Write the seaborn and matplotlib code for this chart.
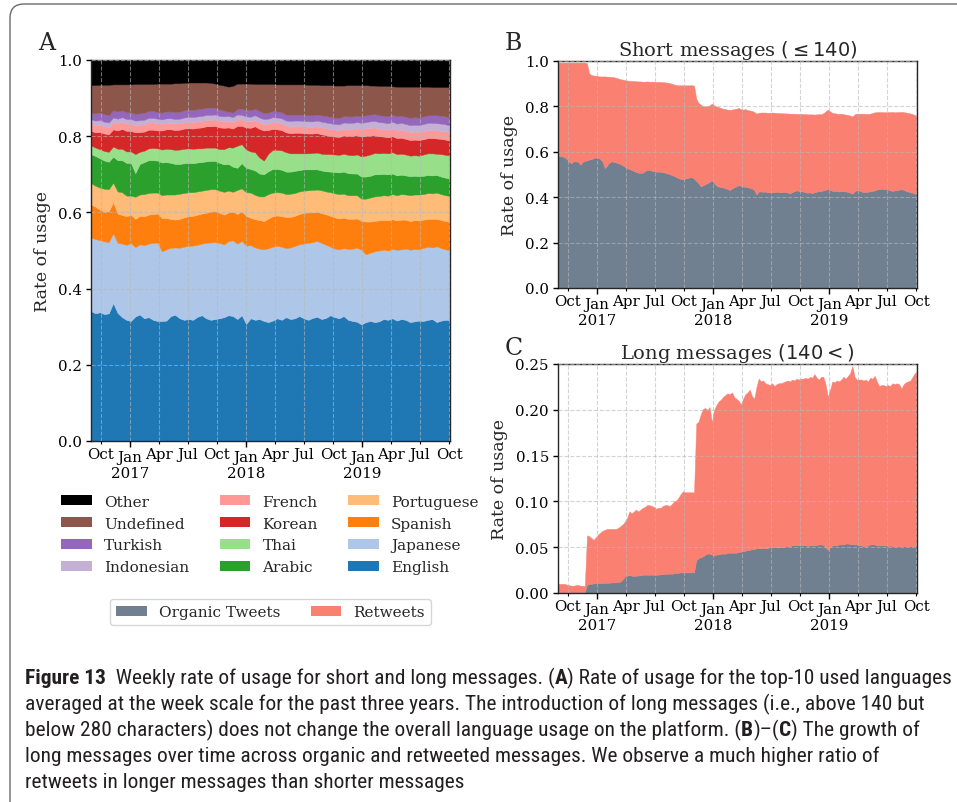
import matplotlib
matplotlib.use("Agg")
import numpy as np
import pandas as pd
import matplotlib.pyplot as plt
import matplotlib.dates as mdates
from matplotlib.ticker import FormatStrFormatter, MultipleLocator
from matplotlib.patches import Patch, FancyBboxPatch
from matplotlib.transforms import IdentityTransform
from matplotlib import font_manager as fm
import seaborn as sns

# ---------------------------------------------------------------- data
# Panel A: share of tweets per language, sampled roughly every two weeks
dates_a = pd.date_range("2016-09-01", "2019-10-03", periods=82)

english = [0.341, 0.335, 0.338, 0.333, 0.335, 0.362, 0.336, 0.325, 0.318, 0.315,
           0.327, 0.332, 0.322, 0.325, 0.318, 0.315, 0.315, 0.316, 0.328, 0.331,
           0.322, 0.318, 0.320, 0.318, 0.326, 0.330, 0.322, 0.318, 0.320, 0.322,
           0.325, 0.330, 0.328, 0.320, 0.330, 0.307, 0.322, 0.318, 0.320, 0.315,
           0.312, 0.316, 0.322, 0.318, 0.325, 0.320, 0.322, 0.328, 0.322, 0.318,
           0.323, 0.326, 0.320, 0.323, 0.330, 0.325, 0.322, 0.328, 0.318, 0.315,
           0.313, 0.306, 0.312, 0.315, 0.312, 0.314, 0.320, 0.318, 0.322, 0.316,
           0.320, 0.318, 0.312, 0.314, 0.316, 0.315, 0.318, 0.320, 0.312, 0.316,
           0.318, 0.317]
japanese = [0.193, 0.195, 0.189, 0.191, 0.187, 0.183, 0.184, 0.193, 0.197, 0.204,
            0.182, 0.184, 0.192, 0.193, 0.202, 0.206, 0.183, 0.187, 0.179, 0.177,
            0.185, 0.192, 0.192, 0.195, 0.189, 0.188, 0.198, 0.203, 0.202, 0.198,
            0.191, 0.194, 0.199, 0.198, 0.195, 0.206, 0.192, 0.190, 0.185, 0.188,
            0.194, 0.194, 0.190, 0.192, 0.181, 0.188, 0.190, 0.188, 0.196, 0.202,
            0.199, 0.199, 0.200, 0.192, 0.180, 0.180, 0.181, 0.178, 0.186, 0.190,
            0.194, 0.196, 0.178, 0.179, 0.186, 0.186, 0.182, 0.182, 0.182, 0.186,
            0.183, 0.187, 0.190, 0.190, 0.187, 0.192, 0.192, 0.188, 0.199, 0.190,
            0.185, 0.183]
spanish = [0.087, 0.085, 0.080, 0.078, 0.081, 0.082, 0.077, 0.075, 0.075, 0.075,
           0.074, 0.075, 0.076, 0.076, 0.076, 0.076, 0.087, 0.082, 0.076, 0.073,
           0.076, 0.077, 0.078, 0.078, 0.079, 0.079, 0.079, 0.082, 0.082, 0.079,
           0.078, 0.076, 0.075, 0.078, 0.078, 0.078, 0.072, 0.074, 0.075, 0.074,
           0.078, 0.080, 0.080, 0.080, 0.082, 0.080, 0.079, 0.080, 0.081, 0.080,
           0.078, 0.077, 0.078, 0.080, 0.081, 0.082, 0.081, 0.080, 0.079, 0.078,
           0.077, 0.076, 0.086, 0.082, 0.080, 0.079, 0.078, 0.079, 0.078, 0.077,
           0.078, 0.076, 0.075, 0.076, 0.076, 0.074, 0.073, 0.075, 0.072, 0.074,
           0.074, 0.075]
portuguese = [0.056, 0.055, 0.058, 0.060, 0.058, 0.051, 0.058, 0.060, 0.054, 0.050,
              0.058, 0.056, 0.058, 0.057, 0.056, 0.055, 0.060, 0.062, 0.064, 0.066,
              0.066, 0.064, 0.063, 0.062, 0.061, 0.060, 0.060, 0.058, 0.057, 0.058,
              0.060, 0.057, 0.052, 0.063, 0.060, 0.062, 0.066, 0.064, 0.062, 0.065,
              0.064, 0.062, 0.061, 0.062, 0.060, 0.061, 0.060, 0.059, 0.058, 0.058,
              0.059, 0.058, 0.060, 0.060, 0.062, 0.063, 0.064, 0.063, 0.062, 0.062,
              0.061, 0.058, 0.060, 0.063, 0.064, 0.064, 0.065, 0.065, 0.066, 0.066,
              0.067, 0.066, 0.068, 0.067, 0.068, 0.067, 0.068, 0.067, 0.069, 0.068,
              0.068, 0.068]
arabic = [0.076, 0.078, 0.077, 0.074, 0.072, 0.068, 0.082, 0.084, 0.086, 0.086,
          0.062, 0.080, 0.084, 0.086, 0.085, 0.084, 0.086, 0.085, 0.083, 0.080,
          0.078, 0.078, 0.077, 0.076, 0.076, 0.075, 0.075, 0.074, 0.074, 0.073,
          0.072, 0.070, 0.066, 0.058, 0.066, 0.064, 0.062, 0.064, 0.060, 0.058,
          0.060, 0.062, 0.061, 0.060, 0.059, 0.058, 0.058, 0.056, 0.056, 0.055,
          0.054, 0.053, 0.052, 0.053, 0.054, 0.056, 0.057, 0.058, 0.058, 0.057,
          0.057, 0.058, 0.058, 0.057, 0.058, 0.057, 0.056, 0.056, 0.054, 0.052,
          0.051, 0.050, 0.050, 0.049, 0.048, 0.048, 0.047, 0.047, 0.046, 0.046,
          0.046, 0.046]
thai = [0.023, 0.022, 0.024, 0.025, 0.026, 0.027, 0.030, 0.030, 0.030, 0.030,
        0.050, 0.032, 0.030, 0.031, 0.032, 0.032, 0.034, 0.035, 0.036, 0.037,
        0.038, 0.038, 0.038, 0.038, 0.037, 0.036, 0.036, 0.035, 0.035, 0.036,
        0.040, 0.044, 0.050, 0.058, 0.050, 0.048, 0.046, 0.048, 0.042, 0.036,
        0.046, 0.050, 0.050, 0.051, 0.051, 0.048, 0.046, 0.044, 0.042, 0.042,
        0.043, 0.044, 0.044, 0.045, 0.046, 0.046, 0.046, 0.047, 0.048, 0.048,
        0.050, 0.053, 0.055, 0.056, 0.056, 0.055, 0.055, 0.055, 0.056, 0.056,
        0.055, 0.055, 0.054, 0.054, 0.054, 0.056, 0.057, 0.058, 0.056, 0.059,
        0.060, 0.060]
korean = [0.038, 0.040, 0.045, 0.046, 0.046, 0.045, 0.048, 0.052, 0.054, 0.054,
          0.057, 0.052, 0.050, 0.049, 0.048, 0.047, 0.050, 0.051, 0.052, 0.052,
          0.052, 0.053, 0.053, 0.053, 0.054, 0.055, 0.056, 0.056, 0.057, 0.057,
          0.056, 0.052, 0.050, 0.052, 0.048, 0.058, 0.062, 0.068, 0.075, 0.079,
          0.062, 0.055, 0.054, 0.053, 0.052, 0.053, 0.054, 0.054, 0.053, 0.052,
          0.051, 0.051, 0.051, 0.050, 0.048, 0.047, 0.047, 0.048, 0.050, 0.051,
          0.051, 0.052, 0.052, 0.050, 0.047, 0.045, 0.043, 0.042, 0.042, 0.042,
          0.042, 0.041, 0.041, 0.041, 0.041, 0.040, 0.040, 0.040, 0.040, 0.040,
          0.040, 0.039]
french = [0.019] * 16 + [0.017] * 25 + [0.018] * 20 + [0.020] * 9 + [0.021] * 12
indonesian = ([0.011] + [0.012] * 21 + [0.013] * 12 + [0.012] * 4 + [0.013] * 7
              + [0.014] * 6 + [0.015] * 6 + [0.016] * 6 + [0.017] * 5
              + [0.018] * 7 + [0.019] * 7)
turkish = [0.017, 0.019, 0.020, 0.020, 0.019, 0.019, 0.019, 0.018, 0.018, 0.018,
           0.018, 0.018, 0.018, 0.018, 0.018, 0.018, 0.018, 0.018, 0.018, 0.018,
           0.018, 0.019, 0.019, 0.019, 0.019, 0.019, 0.019, 0.019, 0.018, 0.017,
           0.015, 0.011, 0.012, 0.014, 0.016, 0.017, 0.017, 0.017, 0.017, 0.016,
           0.016, 0.016, 0.016, 0.016, 0.016, 0.016, 0.016, 0.016, 0.016, 0.016,
           0.016, 0.016, 0.017, 0.017, 0.017, 0.017, 0.017, 0.017, 0.017, 0.017,
           0.017, 0.017, 0.018, 0.018, 0.018, 0.018, 0.018, 0.018, 0.019, 0.019,
           0.019, 0.019, 0.019, 0.020, 0.020, 0.020, 0.020, 0.020, 0.021, 0.021,
           0.021, 0.021]
undefined = [0.073, 0.074, 0.073, 0.077, 0.080, 0.068, 0.071, 0.068, 0.073, 0.073,
             0.078, 0.077, 0.076, 0.071, 0.071, 0.074, 0.076, 0.073, 0.073, 0.076,
             0.075, 0.072, 0.071, 0.072, 0.070, 0.069, 0.066, 0.065, 0.063, 0.065,
             0.066, 0.066, 0.070, 0.067, 0.066, 0.069, 0.070, 0.065, 0.071, 0.076,
             0.075, 0.071, 0.071, 0.073, 0.079, 0.080, 0.079, 0.079, 0.080, 0.080,
             0.080, 0.078, 0.079, 0.081, 0.083, 0.084, 0.085, 0.080, 0.082, 0.082,
             0.080, 0.082, 0.079, 0.076, 0.075, 0.077, 0.078, 0.080, 0.074, 0.078,
             0.076, 0.079, 0.082, 0.080, 0.081, 0.078, 0.075, 0.074, 0.074, 0.075,
             0.077, 0.080]

languages = ["English", "Japanese", "Spanish", "Portuguese", "Arabic", "Thai",
             "Korean", "French", "Indonesian", "Turkish", "Undefined", "Other"]
named_shares = [english, japanese, spanish, portuguese, arabic, thai, korean,
                french, indonesian, turkish, undefined]
# everything outside the listed languages is grouped as "Other"
other = 1.0 - np.sum(np.array(named_shares), axis=0)

# Panels B and C: weekly rate of usage, organic tweets vs retweets
dates_w = pd.date_range("2016-09-01", periods=162, freq="7D")

short_organic = [
    0.583, 0.582, 0.580, 0.575, 0.568, 0.555, 0.550, 0.560, 0.558, 0.556, 0.543, 0.556, 0.560, 0.562, 0.566, 0.568, 0.572, 0.575,
    0.573, 0.568, 0.556, 0.528, 0.540, 0.552, 0.558, 0.556, 0.553, 0.550, 0.546, 0.540, 0.534, 0.528, 0.524, 0.520, 0.516, 0.511,
    0.508, 0.507, 0.508, 0.515, 0.521, 0.520, 0.517, 0.515, 0.512, 0.513, 0.512, 0.510, 0.508, 0.505, 0.502, 0.498, 0.494, 0.489,
    0.484, 0.481, 0.478, 0.482, 0.484, 0.487, 0.488, 0.482, 0.472, 0.462, 0.448, 0.452, 0.458, 0.462, 0.468, 0.476, 0.462, 0.452,
    0.447, 0.445, 0.443, 0.440, 0.436, 0.432, 0.438, 0.444, 0.448, 0.453, 0.450, 0.447, 0.446, 0.444, 0.441, 0.438, 0.432, 0.412,
    0.425, 0.425, 0.424, 0.425, 0.421, 0.422, 0.423, 0.422, 0.424, 0.423, 0.421, 0.424, 0.423, 0.420, 0.418, 0.422, 0.427, 0.430,
    0.428, 0.426, 0.425, 0.421, 0.420, 0.421, 0.418, 0.422, 0.424, 0.428, 0.427, 0.430, 0.433, 0.436, 0.433, 0.428, 0.427, 0.428,
    0.425, 0.426, 0.426, 0.425, 0.424, 0.420, 0.416, 0.425, 0.432, 0.430, 0.425, 0.423, 0.423, 0.424, 0.426, 0.428, 0.430, 0.434,
    0.436, 0.437, 0.437, 0.436, 0.434, 0.430, 0.428, 0.430, 0.432, 0.433, 0.436, 0.432, 0.428, 0.425, 0.422, 0.420, 0.416, 0.413]
short_retweets = [
    0.410, 0.411, 0.413, 0.418, 0.425, 0.438, 0.443, 0.433, 0.435, 0.437, 0.450, 0.437, 0.433, 0.428, 0.379, 0.370, 0.364, 0.360,
    0.360, 0.364, 0.376, 0.404, 0.391, 0.379, 0.372, 0.373, 0.373, 0.373, 0.374, 0.378, 0.382, 0.386, 0.389, 0.392, 0.396, 0.400,
    0.402, 0.403, 0.401, 0.394, 0.389, 0.389, 0.392, 0.394, 0.396, 0.395, 0.396, 0.397, 0.398, 0.400, 0.401, 0.402, 0.403, 0.405,
    0.409, 0.412, 0.415, 0.411, 0.409, 0.406, 0.405, 0.410, 0.363, 0.353, 0.360, 0.350, 0.342, 0.338, 0.337, 0.336, 0.343, 0.348,
    0.350, 0.348, 0.347, 0.348, 0.350, 0.353, 0.348, 0.345, 0.342, 0.340, 0.338, 0.339, 0.342, 0.340, 0.341, 0.342, 0.344, 0.356,
    0.347, 0.348, 0.349, 0.348, 0.351, 0.350, 0.350, 0.350, 0.347, 0.348, 0.349, 0.346, 0.346, 0.349, 0.350, 0.346, 0.341, 0.337,
    0.339, 0.341, 0.341, 0.345, 0.345, 0.344, 0.347, 0.342, 0.341, 0.338, 0.339, 0.340, 0.345, 0.350, 0.345, 0.344, 0.343, 0.340,
    0.342, 0.342, 0.340, 0.339, 0.338, 0.340, 0.340, 0.340, 0.336, 0.338, 0.343, 0.345, 0.344, 0.343, 0.342, 0.343, 0.344, 0.341,
    0.339, 0.338, 0.338, 0.338, 0.341, 0.345, 0.348, 0.344, 0.343, 0.342, 0.340, 0.343, 0.345, 0.346, 0.347, 0.346, 0.346, 0.345]

long_organic = [
    0.001, 0.001, 0.001, 0.001, 0.001, 0.001, 0.001, 0.001, 0.001, 0.001, 0.001, 0.001, 0.001, 0.009, 0.010, 0.010, 0.0105, 0.0105,
    0.011, 0.011, 0.011, 0.011, 0.0112, 0.0112, 0.0115, 0.0115, 0.012, 0.012, 0.0125, 0.015, 0.018, 0.019, 0.0195, 0.019, 0.0185, 0.019,
    0.019, 0.0195, 0.020, 0.020, 0.020, 0.020, 0.020, 0.020, 0.020, 0.020, 0.0205, 0.0205, 0.021, 0.021, 0.0212, 0.021, 0.0215, 0.022,
    0.022, 0.0225, 0.0225, 0.0225, 0.0225, 0.0225, 0.0225, 0.0225, 0.036, 0.038, 0.039, 0.040, 0.042, 0.043, 0.043, 0.042, 0.041, 0.042,
    0.042, 0.043, 0.043, 0.043, 0.044, 0.044, 0.044, 0.044, 0.044, 0.045, 0.045, 0.046, 0.046, 0.047, 0.047, 0.048, 0.048, 0.049,
    0.049, 0.049, 0.049, 0.049, 0.049, 0.050, 0.050, 0.050, 0.050, 0.050, 0.050, 0.0505, 0.051, 0.051, 0.051, 0.052, 0.0525, 0.0525,
    0.052, 0.052, 0.052, 0.052, 0.0515, 0.052, 0.052, 0.052, 0.0525, 0.053, 0.053, 0.0525, 0.050, 0.047, 0.050, 0.052, 0.052, 0.052,
    0.053, 0.053, 0.053, 0.054, 0.054, 0.0535, 0.0535, 0.053, 0.053, 0.052, 0.052, 0.051, 0.051, 0.052, 0.053, 0.053, 0.053, 0.052,
    0.052, 0.052, 0.052, 0.052, 0.051, 0.052, 0.051, 0.051, 0.051, 0.051, 0.051, 0.051, 0.051, 0.051, 0.051, 0.051, 0.051, 0.051]
long_retweets = [
    0.009, 0.009, 0.009, 0.009, 0.008, 0.0075, 0.007, 0.007, 0.0075, 0.008, 0.007, 0.007, 0.0065, 0.054, 0.052, 0.050, 0.0475, 0.0505,
    0.053, 0.055, 0.057, 0.058, 0.0588, 0.0588, 0.0585, 0.0585, 0.058, 0.059, 0.0605, 0.060, 0.060, 0.063, 0.0695, 0.068, 0.0705, 0.072,
    0.070, 0.0715, 0.073, 0.074, 0.076, 0.076, 0.075, 0.074, 0.072, 0.073, 0.0725, 0.0745, 0.075, 0.075, 0.0738, 0.076, 0.0785, 0.079,
    0.082, 0.0855, 0.0885, 0.0875, 0.0875, 0.0875, 0.0875, 0.0875, 0.149, 0.149, 0.156, 0.161, 0.160, 0.157, 0.160, 0.144, 0.159, 0.163,
    0.167, 0.168, 0.171, 0.173, 0.174, 0.173, 0.175, 0.170, 0.168, 0.165, 0.161, 0.166, 0.171, 0.172, 0.175, 0.167, 0.164, 0.176,
    0.185, 0.182, 0.183, 0.180, 0.179, 0.177, 0.179, 0.176, 0.178, 0.179, 0.179, 0.1795, 0.180, 0.181, 0.180, 0.181, 0.1795, 0.1815,
    0.181, 0.182, 0.182, 0.183, 0.1825, 0.184, 0.183, 0.187, 0.1825, 0.180, 0.183, 0.1835, 0.178, 0.167, 0.172, 0.179, 0.178, 0.180,
    0.178, 0.180, 0.183, 0.180, 0.183, 0.1865, 0.1945, 0.183, 0.180, 0.181, 0.181, 0.181, 0.182, 0.179, 0.182, 0.181, 0.184, 0.179,
    0.174, 0.175, 0.175, 0.174, 0.176, 0.174, 0.178, 0.177, 0.178, 0.177, 0.172, 0.177, 0.179, 0.180, 0.181, 0.185, 0.189, 0.191]

kind_labels = ["Organic Tweets", "Retweets"]

caption_lines = [
    [("Figure 13", True), ("  Weekly rate of usage for short and long messages. (", False),
     ("A", True), (") Rate of usage for the top-10 used languages", False)],
    [("averaged at the week scale for the past three years. The introduction of long messages (i.e., above 140 but", False)],
    [("below 280 characters) does not change the overall language usage on the platform. (", False),
     ("B", True), (")\u2013(", False), ("C", True), (") The growth of", False)],
    [("long messages over time across organic and retweeted messages. We observe a much higher ratio of", False)],
    [("retweets in longer messages than shorter messages", False)],
]

# ---------------------------------------------------------------- style
sns.set_theme(style="ticks")
plt.rcParams["font.family"] = ["DejaVu Serif"]
plt.rcParams["mathtext.fontset"] = "dejavusans"
plt.rcParams["axes.edgecolor"] = "#262626"
plt.rcParams["axes.linewidth"] = 1.0

tab = sns.color_palette("tab20")
lang_colors = [tab[0], tab[1], tab[2], tab[3], tab[4], tab[5], tab[6], tab[7],
               tab[9], tab[8], tab[10], "black"]
kind_colors = ["slategray", "salmon"]

W, H = 957, 803
fig = plt.figure(figsize=(W / 100, H / 100), dpi=100)
fig.patch.set_facecolor("white")


def px_axes(x0, y0, x1, y1):
    return fig.add_axes([x0 / W, 1 - y1 / H, (x1 - x0) / W, (y1 - y0) / H])


start, end = dates_w[0], dates_w[-1]
TICK_SIZE = 10.8


def style_axes(ax, ymax, fmt, step):
    ax.set_xlim(start, end)
    ax.set_ylim(0, ymax)
    ax.xaxis.set_major_locator(mdates.MonthLocator(bymonth=1))
    ax.xaxis.set_major_formatter(mdates.DateFormatter("%b\n%Y"))
    ax.xaxis.set_minor_locator(mdates.MonthLocator(bymonth=[4, 7, 10]))
    ax.xaxis.set_minor_formatter(mdates.DateFormatter("%b"))
    ax.yaxis.set_major_locator(MultipleLocator(step))
    ax.yaxis.set_major_formatter(FormatStrFormatter(fmt))
    ax.tick_params(axis="x", which="major", length=4.0, width=1.0, pad=2.5,
                   labelsize=TICK_SIZE, colors="black")
    ax.tick_params(axis="x", which="minor", length=2.0, width=0.8, pad=2.5,
                   labelsize=TICK_SIZE, colors="black")
    ax.tick_params(axis="y", which="major", length=3.5, width=1.0, pad=3,
                   labelsize=TICK_SIZE, colors="black")
    ax.grid(True, which="both", axis="x", ls="--", lw=0.8, color="#b8b8b8", alpha=0.6)
    ax.grid(True, which="major", axis="y", ls="--", lw=0.8, color="#b8b8b8", alpha=0.6)
    ax.set_axisbelow(False)
    ax.set_ylabel("Rate of usage", fontsize=12.5)


# ---------------------------------------------------------------- panel A
ax_a = px_axes(91, 61, 450, 442)
ax_a.stackplot(dates_a, *named_shares, other, colors=lang_colors,
               edgecolor="face", linewidth=0.3)
style_axes(ax_a, 1.0, "%.1f", 0.2)
ax_a.yaxis.set_label_coords(-0.111, 0.5)

# ---------------------------------------------------------------- panel B
ax_b = px_axes(558, 62, 917, 289)
ax_b.stackplot(dates_w, short_organic, short_retweets, colors=kind_colors,
               edgecolor="face", linewidth=0.3)
style_axes(ax_b, 1.0, "%.1f", 0.2)
ax_b.yaxis.set_label_coords(-0.111, 0.5)
ax_b.set_title(r"Short messages $(\leq 140)$", fontsize=14, pad=4)

# ---------------------------------------------------------------- panel C
ax_c = px_axes(558, 365, 917, 594)
ax_c.stackplot(dates_w, long_organic, long_retweets, colors=kind_colors,
               edgecolor="face", linewidth=0.3)
style_axes(ax_c, 0.25, "%.2f", 0.05)
ax_c.yaxis.set_label_coords(-0.139, 0.5)
ax_c.set_title(r"Long messages $(140 <)$", fontsize=14, pad=4)

# panel letters
for letter, (x, y) in {"A": (38, 50), "B": (505, 50), "C": (505, 355)}.items():
    fig.text(x / W, 1 - y / H, letter, fontsize=17, ha="left", va="baseline")

# ---------------------------------------------------------------- legends
order = languages[::-1]
lang_handles = [Patch(facecolor=lang_colors[languages.index(n)], edgecolor="none")
                for n in order]
fig.legend(lang_handles, order, loc="center", bbox_to_anchor=(270 / W, 1 - 535.5 / H),
           ncol=3, frameon=False, fontsize=11, handlelength=2.0, handleheight=0.65,
           handletextpad=0.8, columnspacing=2.0, labelspacing=0.52)

kind_handles = [Patch(facecolor=c, edgecolor="none") for c in kind_colors]
leg2 = fig.legend(kind_handles, kind_labels, loc="center",
                  bbox_to_anchor=(270.5 / W, 1 - 613.3 / H), ncol=2, frameon=True,
                  fancybox=True, fontsize=11, handlelength=2.0, handleheight=0.65,
                  handletextpad=0.8, columnspacing=2.0, borderpad=0.4)
leg2.get_frame().set_edgecolor("0.8")
leg2.get_frame().set_linewidth(1.0)

# ---------------------------------------------------------------- frame
frame = FancyBboxPatch((10, -60), 1000, 858, boxstyle="round,pad=0,rounding_size=14",
                       transform=IdentityTransform(), fill=False,
                       edgecolor="#6a6a6a", linewidth=1.0)
fig.add_artist(frame)


# ---------------------------------------------------------------- caption
def caption_faces():
    entries = sorted(fm.fontManager.ttflist, key=lambda e: e.fname)

    def wnum(e):
        w = e.weight
        if isinstance(w, str):
            w = fm.weight_dict.get(w.lower(), 400)
        return int(w)

    preds = [
        lambda e: e.name in ("Open Sans", "Noto Sans") and e.stretch == "semi-condensed",
        lambda e: e.name in ("Open Sans", "Noto Sans") and e.stretch == "condensed",
        lambda e: e.name in ("Roboto Condensed", "Open Sans Condensed",
                             "Noto Sans SemiCondensed", "Noto Sans Condensed"),
        lambda e: e.name == "Liberation Sans Narrow",
        lambda e: str(e.stretch) in ("semi-condensed", "condensed"),
    ]
    for p in preds:
        reg = [e for e in entries if p(e) and e.style == "normal" and 350 <= wnum(e) <= 450]
        bold = [e for e in entries if p(e) and e.style == "normal" and 600 <= wnum(e) <= 750]
        if reg and bold:
            fam = reg[0].name
            b = [e for e in bold if e.name == fam] or bold
            return fm.FontProperties(fname=reg[0].fname), fm.FontProperties(fname=b[0].fname)
    return fm.FontProperties(family="Lato"), fm.FontProperties(family="Lato", weight="bold")


fp_reg, fp_bold = caption_faces()
renderer = fig.canvas.get_renderer()


def run_width(s, fp, size):
    p = fp.copy()
    p.set_size(size)
    w1, _, _ = renderer.get_text_width_height_descent("|" + s + "|", p, ismath=False)
    w0, _, _ = renderer.get_text_width_height_descent("||", p, ismath=False)
    return w1 - w0


def line_width(runs, size):
    return sum(run_width(t, fp_bold if b else fp_reg, size) for t, b in runs)


ref_size = 10.0
cap_size = ref_size * 922.0 / line_width(caption_lines[0], ref_size)
cap_size = min(cap_size, 16.0)
baselines = [684, 710.5, 736.5, 762.5, 788.5]
for runs, yb in zip(caption_lines, baselines):
    x = 25.0
    for text, bold in runs:
        fp = (fp_bold if bold else fp_reg).copy()
        fp.set_size(cap_size)
        fig.text(x / W, 1 - yb / H, text, fontproperties=fp, color="#231f20",
                 ha="left", va="baseline")
        x += run_width(text, fp_bold if bold else fp_reg, cap_size)

fig.savefig("out.png", dpi=100)
